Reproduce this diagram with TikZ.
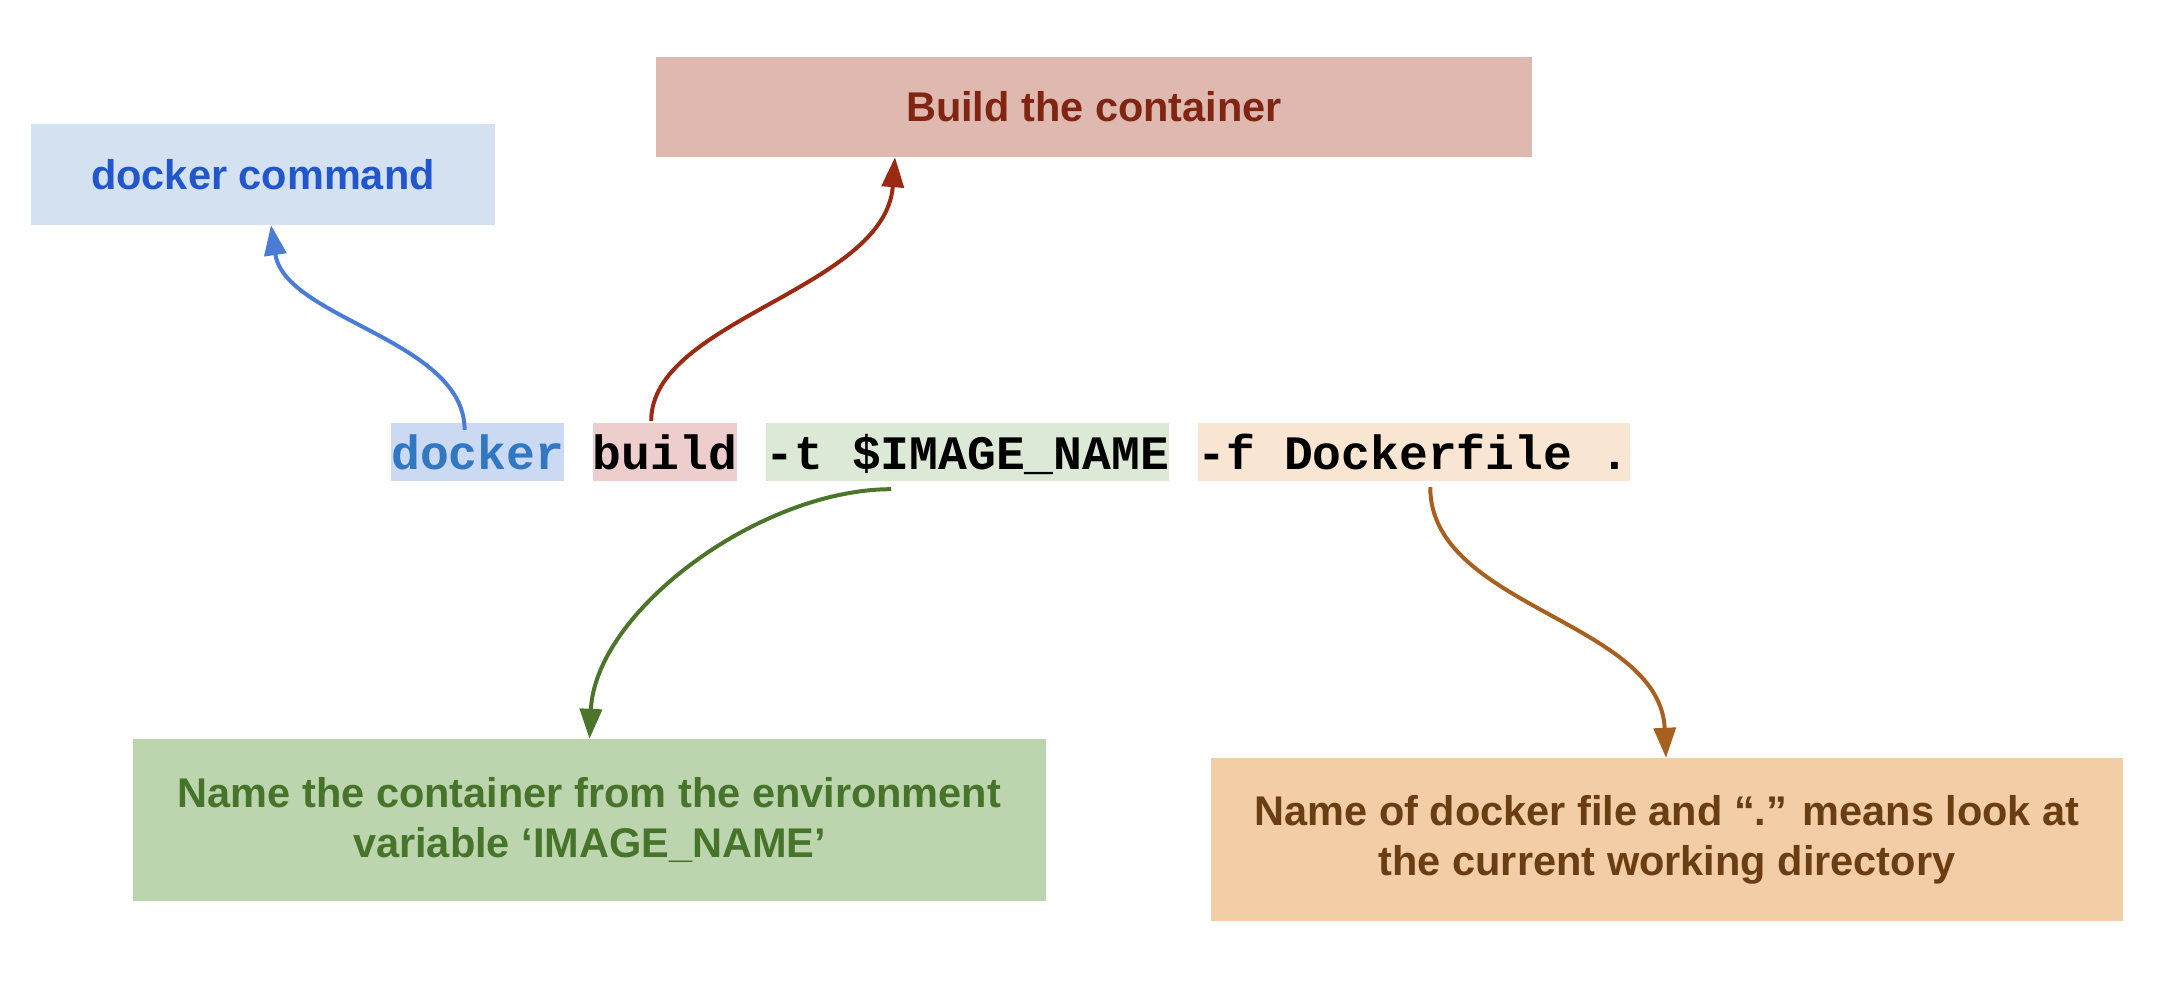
\documentclass[tikz,border=0pt]{standalone}
\usepackage{fontspec}
\setmainfont{Liberation Sans}
\newfontfamily\codefont{Liberation Mono}
\usetikzlibrary{arrows.meta}
\definecolor{dcFill}{HTML}{D4E1F1}
\definecolor{dcText}{HTML}{2156CC}
\definecolor{blueArrow}{HTML}{4A7CD6}
\definecolor{dkHi}{HTML}{CBD9F3}
\definecolor{dkText}{HTML}{3277C2}
\definecolor{bcFill}{HTML}{DFB9B0}
\definecolor{bcText}{HTML}{7F2512}
\definecolor{redArrow}{HTML}{9A2A12}
\definecolor{buHi}{HTML}{EECDCD}
\definecolor{tHi}{HTML}{DCE9D6}
\definecolor{gnFill}{HTML}{BDD5AE}
\definecolor{gnText}{HTML}{46742A}
\definecolor{gnArrow}{HTML}{4A752A}
\definecolor{fHi}{HTML}{F8E5D2}
\definecolor{orFill}{HTML}{F2CDA5}
\definecolor{orText}{HTML}{6B3D12}
\definecolor{orArrow}{HTML}{A8601E}
\tikzset{
  labelbox/.style={inner sep=0pt, align=center, font=\fontsize{41.5pt}{50pt}\selectfont\bfseries},
  codeseg/.style={inner sep=0pt, anchor=base west, text height=46pt, text depth=12pt,
    font=\codefont\fontsize{48pt}{58pt}\selectfont\bfseries},
  conn/.style={line width=4pt, -{Triangle[length=30pt,width=22pt]}}
}
\begin{document}
\begin{tikzpicture}[x=1pt,y=-1pt]
\useasboundingbox (0,0) rectangle (2172,984);
% boxes
\node[labelbox, fill=dcFill, text=dcText, minimum width=464pt, minimum height=101pt] (dc) at (263,174.5) {docker command};
\node[labelbox, fill=bcFill, text=bcText, minimum width=876pt, minimum height=100pt] (bc) at (1094,107) {Build the container};
\node[labelbox, fill=gnFill, text=gnText, minimum width=913pt, minimum height=162pt] (gn) at (589.5,820) {Name the container from the environment\\variable ‘IMAGE\_NAME’};
\node[labelbox, fill=orFill, text=orText, minimum width=912pt, minimum height=163pt] (or) at (1667,839.5) {Name of docker file and “.” means look at\\the current working directory};
% command line
\node[codeseg, fill=dkHi, text=dkText] (dk) at (391,469) {docker};
\node[codeseg, fill=buHi] (bu) at (592.6,469) {build};
\node[codeseg, fill=tHi] (tt) at (765.4,469) {-t \$IMAGE\_NAME};
\node[codeseg, fill=fHi] (ff) at (1197.4,469) {-f Dockerfile .};
% connectors
\draw[conn, blueArrow] ([xshift=-13pt,yshift=-7pt]dk.north) .. controls +(0,-90) and +(14,94) .. ([xshift=8pt]dc.south);
\draw[conn, redArrow] ([xshift=-13.6pt,yshift=2pt]bu.north) .. controls +(0,-101) and +(-10,132) .. ([xshift=-199pt]bc.south);
\draw[conn, gnArrow] ([xshift=-76pt,yshift=-8pt]tt.south) .. controls +(-131,0) and +(6,-128) .. (gn.north);
\draw[conn, orArrow] ([xshift=16.6pt,yshift=-6pt]ff.south) .. controls +(0,120) and +(-6,-137) .. ([xshift=-1pt]or.north);
\end{tikzpicture}
\end{document}
